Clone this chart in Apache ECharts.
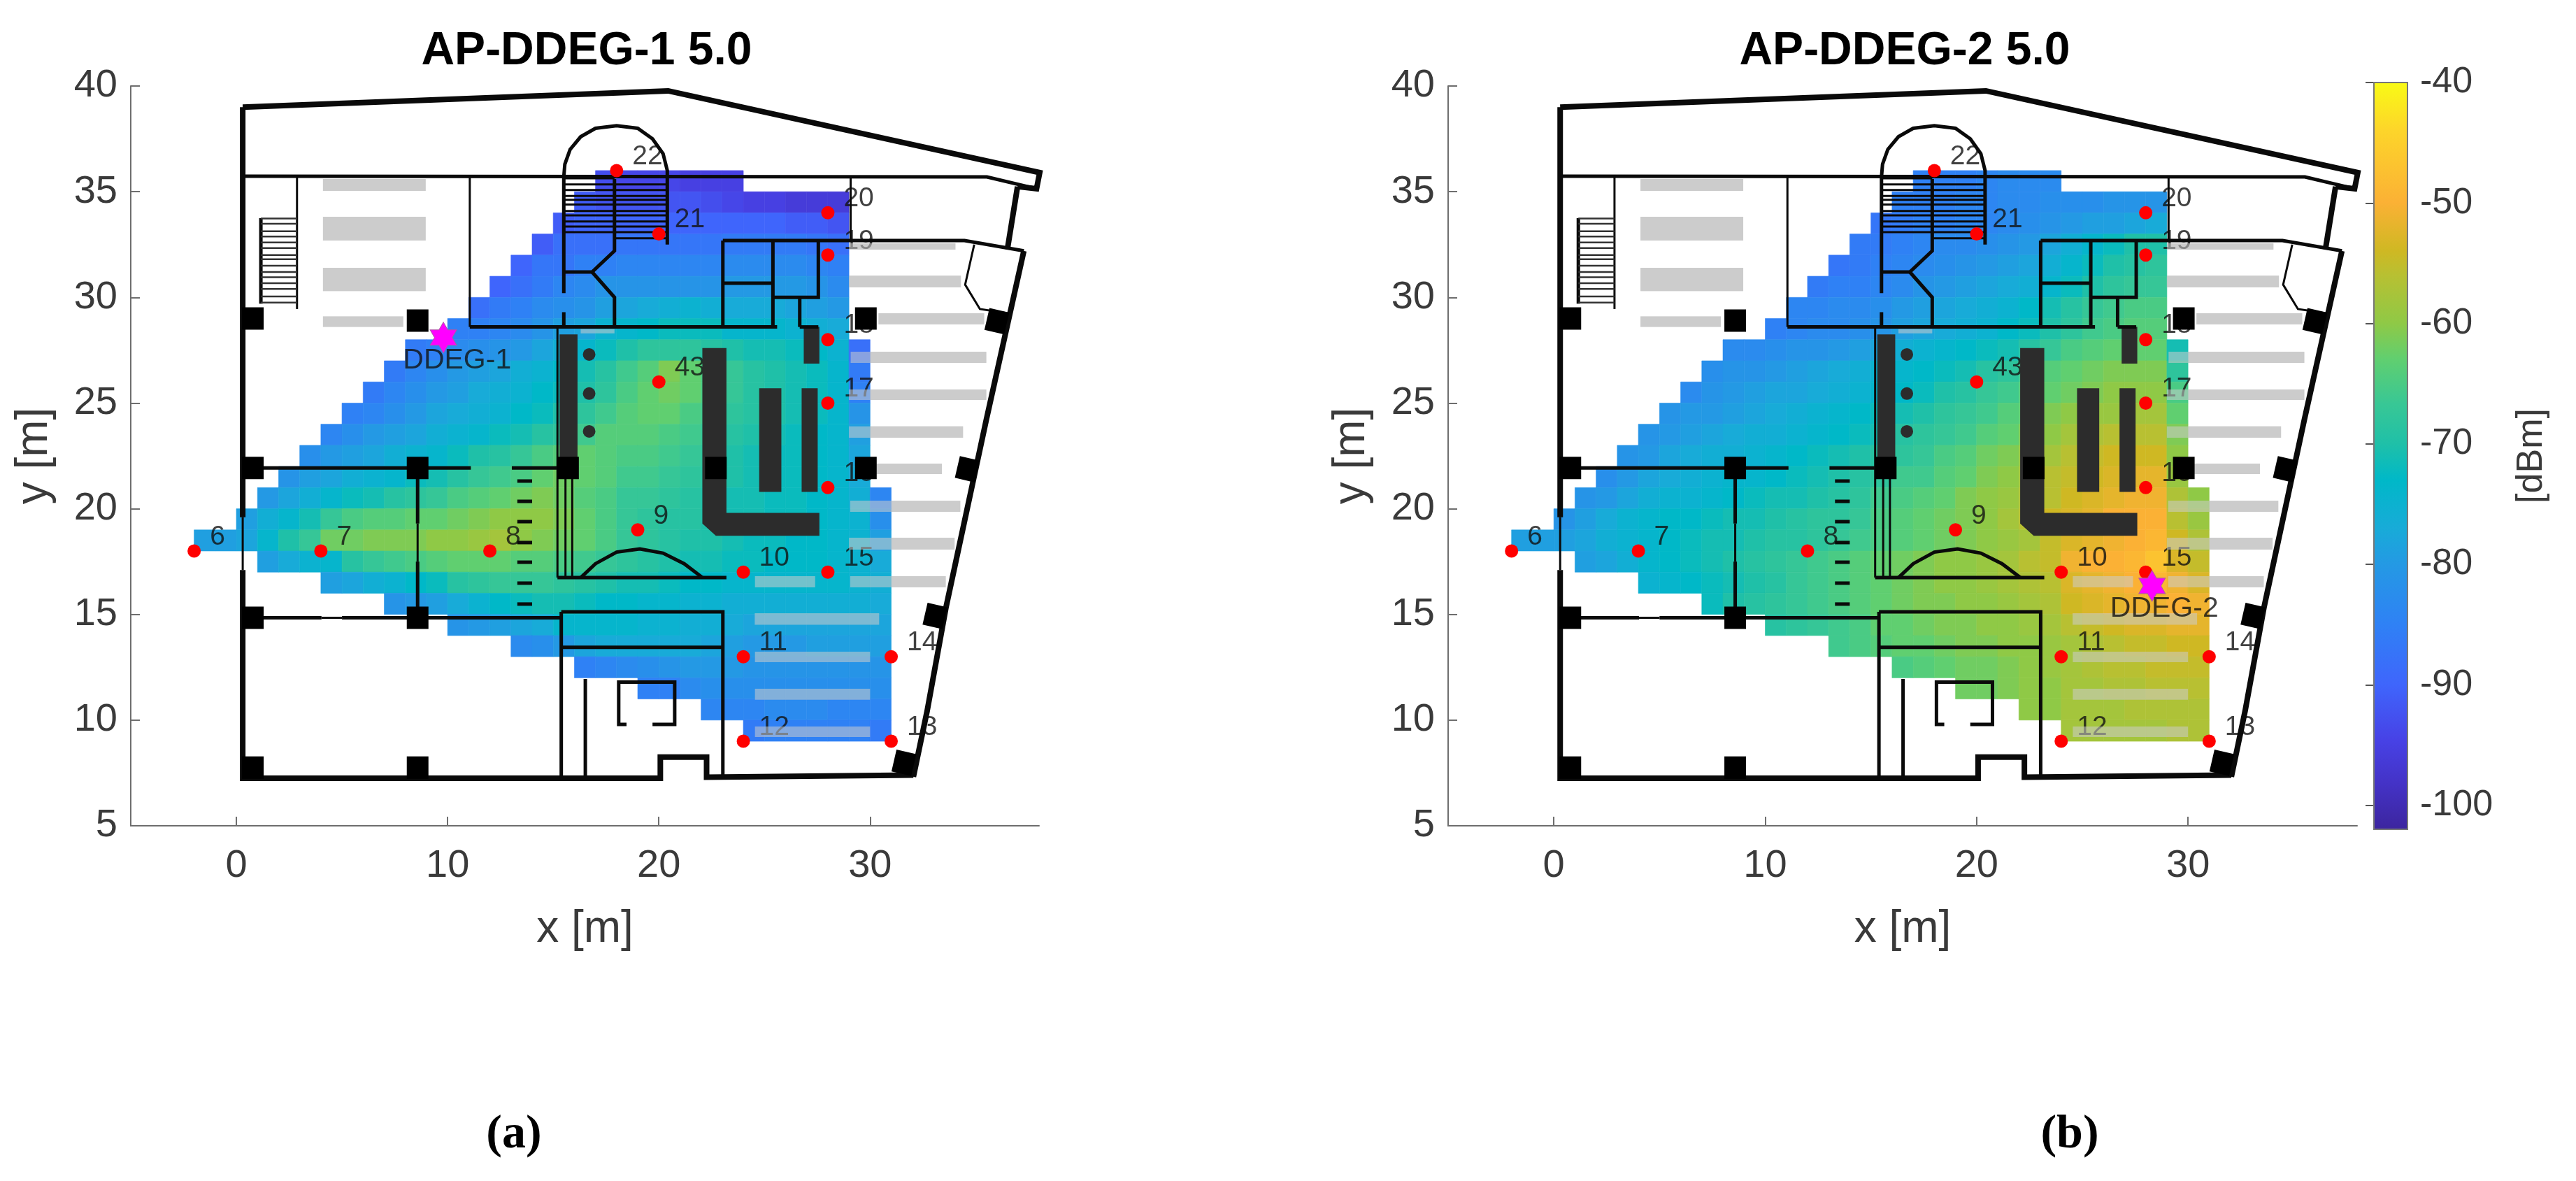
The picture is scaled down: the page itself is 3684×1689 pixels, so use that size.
<!DOCTYPE html>
<html><head><meta charset="utf-8">
<style>html,body{margin:0;padding:0;background:#fff}#c{width:3684px;height:1689px}</style>
<script src="https://cdn.jsdelivr.net/npm/echarts@6/dist/echarts.min.js"></script>
</head><body><div id="c"></div>
<script>
// ---------- tick labels and titles ----------
const xTicks=[0,10,20,30];
const colorTicks=[-40,-50,-60,-70,-80,-90,-100];
const colorRange=[-102,-40];
const titles=['AP-DDEG-1 5.0','AP-DDEG-2 5.0'];
// ---------- measurement points ----------
const pointNames=['6','7','8','9','10','11','12','13','14','15','16','17','18','19','20','21','22','43'];
const pointX=[-2,4,12,19,24,24,24,31,31,28,28,28,28,28,28,20,18,20];
const pointY=[18,18,18,19,17,13,9,9,13,17,21,25,28,32,34,33,36,26];
const apNames=['DDEG-1','DDEG-2'];
const apX=[9.8,28.3];
const apY=[28.1,16.35];
const apTextX=[7.87,26.3];
const apTextY=[27.0,15.27];
// ---------- signal map, one row per metre of y (top row y=35 .. bottom row y=9) ----------
const rowY=[35,34,33,32,31,30,29,28,27,26,25,24,23,22,21,20,19,18,17,16,15,14,13,12,11,10,9];
const rowStartX=[17,16,15,14,13,12,11,10,8,7,6,5,4,3,2,1,0,-2,1,4,7,10,13,16,19,22,24];
const ddeg1=[
[-93,-94,-94,-94,-95,-95,-95],
[-91,-92,-92,-92,-92,-92,-93,-94,-95,-95,-96,-96,-96],
[-91,-90,-90,-90,-90,-90,-90,-90,-90,-90,-90,-91,-91,-92],
[-91,-88,-88,-88,-87,-87,-87,-87,-87,-86,-86,-86,-86,-87,-88],
[-90,-87,-87,-85,-85,-84,-84,-84,-84,-84,-83,-83,-83,-83,-84,-85],
[-90,-88,-86,-84,-83,-81,-81,-81,-81,-81,-81,-80,-80,-80,-80,-81,-83],
[-88,-86,-85,-83,-82,-81,-79,-78,-77,-76,-75,-76,-77,-77,-77,-78,-79,-80],
[-85,-85,-84,-83,-81,-79,-78,-75,-74,-73,-72,-72,-72,-74,-74,-74,-75,-76,-77],
[-86,-85,-83,-82,-81,-80,-78,-76,-74,-72,-70,-68,-68,-68,-69,-70,-71,-71,-72,-73,-75,-88],
[-86,-84,-82,-80,-79,-78,-76,-75,-73,-71,-69,-66,-64,-61,-63,-65,-67,-69,-70,-71,-72,-74,-86],
[-86,-84,-82,-80,-79,-77,-76,-75,-73,-72,-70,-68,-65,-63,-62,-63,-65,-67,-69,-70,-71,-72,-74,-85],
[-85,-84,-82,-80,-78,-77,-76,-75,-73,-72,-70,-68,-66,-64,-63,-63,-65,-66,-68,-69,-70,-71,-72,-74,-81],
[-84,-82,-80,-79,-78,-76,-75,-74,-72,-71,-69,-68,-66,-64,-64,-64,-65,-66,-67,-69,-70,-71,-72,-73,-74,-79],
[-82,-80,-79,-78,-76,-75,-74,-72,-70,-69,-67,-65,-64,-63,-64,-65,-65,-66,-67,-68,-70,-71,-72,-72,-73,-74,-78],
[-81,-79,-78,-76,-75,-74,-72,-71,-69,-67,-66,-65,-63,-62,-63,-64,-66,-66,-67,-68,-69,-70,-71,-72,-72,-73,-74,-77],
[-80,-78,-76,-74,-72,-71,-69,-68,-67,-65,-64,-63,-62,-61,-62,-64,-65,-67,-67,-68,-69,-70,-71,-71,-72,-72,-73,-74,-76,-84],
[-79,-76,-74,-71,-67,-65,-64,-64,-63,-63,-62,-61,-60,-60,-60,-61,-63,-65,-67,-68,-69,-69,-70,-71,-71,-72,-72,-73,-74,-75,-82],
[-79,-79,-78,-74,-70,-67,-62,-62,-61,-61,-61,-60,-60,-59,-58,-60,-61,-62,-63,-65,-67,-68,-69,-70,-70,-71,-72,-72,-73,-73,-74,-75,-79],
[-79,-77,-75,-74,-69,-67,-66,-65,-64,-63,-63,-63,-64,-64,-65,-66,-67,-68,-69,-70,-71,-71,-72,-72,-73,-73,-73,-74,-75,-77],
[-79,-78,-76,-75,-73,-72,-69,-68,-67,-67,-67,-68,-69,-70,-71,-71,-72,-73,-73,-74,-74,-74,-74,-74,-74,-75,-76],
[-81,-80,-79,-77,-75,-73,-72,-71,-71,-72,-73,-73,-74,-74,-75,-75,-76,-76,-76,-76,-76,-76,-76,-77],
[-81,-80,-79,-78,-77,-74,-74,-74,-74,-75,-75,-76,-76,-77,-78,-78,-78,-78,-78,-78,-78],
[-83,-82,-80,-78,-77,-77,-77,-77,-77,-78,-79,-80,-80,-80,-79,-79,-79,-79],
[-85,-84,-83,-82,-81,-80,-80,-80,-81,-81,-81,-81,-81,-81,-81],
[-85,-85,-83,-82,-82,-82,-82,-82,-82,-82,-82,-82],
[-84,-84,-84,-83,-83,-83,-84,-84,-84],
[-86,-85,-85,-85,-85,-85,-86]
];
const ddeg2=[
[-85,-85,-85,-84,-83,-83,-83],
[-85,-85,-85,-84,-84,-83,-83,-82,-82,-82,-81,-81,-81],
[-87,-86,-85,-85,-84,-84,-83,-82,-81,-80,-79,-79,-78,-77],
[-86,-86,-85,-84,-83,-83,-82,-81,-80,-78,-76,-74,-72,-70,-70],
[-87,-86,-85,-84,-83,-82,-81,-80,-79,-78,-76,-74,-72,-70,-69,-68],
[-86,-85,-85,-84,-83,-81,-80,-79,-78,-77,-76,-74,-72,-70,-68,-67,-67],
[-84,-84,-83,-83,-82,-80,-79,-78,-77,-76,-75,-73,-71,-69,-67,-66,-65,-65],
[-85,-84,-83,-83,-82,-81,-79,-78,-77,-76,-75,-73,-72,-70,-68,-66,-65,-64,-64],
[-83,-83,-82,-81,-81,-80,-79,-78,-76,-75,-74,-73,-72,-71,-69,-67,-65,-64,-63,-63,-63,-71],
[-82,-81,-81,-80,-79,-78,-77,-76,-75,-74,-73,-72,-71,-69,-68,-66,-64,-63,-62,-61,-61,-61,-68],
[-83,-81,-80,-79,-78,-78,-77,-76,-75,-74,-73,-72,-70,-69,-67,-66,-64,-63,-62,-61,-60,-60,-60,-65],
[-81,-80,-80,-79,-78,-77,-76,-75,-74,-73,-72,-71,-70,-68,-67,-66,-64,-63,-61,-60,-59,-59,-58,-58,-63],
[-81,-80,-79,-78,-77,-76,-76,-75,-74,-73,-72,-71,-69,-68,-67,-66,-64,-63,-61,-60,-58,-57,-56,-56,-56,-61],
[-81,-80,-78,-77,-76,-76,-75,-74,-73,-72,-71,-70,-69,-68,-67,-65,-64,-62,-61,-59,-58,-56,-55,-54,-54,-54,-60],
[-82,-80,-78,-77,-76,-75,-74,-74,-73,-72,-71,-70,-69,-68,-66,-66,-64,-63,-61,-60,-58,-56,-55,-54,-53,-52,-52,-59],
[-81,-80,-78,-76,-75,-75,-74,-73,-72,-71,-71,-70,-69,-68,-66,-65,-64,-63,-61,-60,-59,-57,-56,-54,-53,-52,-51,-51,-57,-60],
[-81,-79,-77,-75,-74,-73,-73,-72,-71,-71,-70,-69,-68,-68,-67,-65,-64,-63,-62,-61,-60,-58,-56,-54,-53,-52,-50,-50,-50,-56,-59],
[-79,-79,-79,-78,-76,-75,-74,-73,-72,-71,-71,-70,-69,-69,-68,-67,-66,-65,-64,-63,-62,-61,-60,-59,-58,-55,-53,-52,-51,-50,-49,-54,-57],
[-79,-78,-76,-74,-73,-72,-71,-70,-69,-68,-67,-66,-65,-64,-63,-62,-61,-60,-60,-59,-58,-56,-55,-51,-50,-50,-49,-47,-53,-55],
[-75,-74,-73,-72,-71,-70,-69,-67,-66,-65,-64,-63,-62,-61,-60,-60,-59,-58,-57,-56,-53,-52,-51,-50,-49,-51,-53],
[-72,-70,-69,-68,-67,-66,-65,-64,-63,-62,-61,-61,-60,-60,-59,-58,-57,-54,-53,-52,-51,-51,-50,-51],
[-69,-68,-67,-66,-65,-63,-63,-62,-61,-61,-60,-60,-59,-58,-56,-55,-54,-53,-53,-52,-52],
[-66,-65,-64,-63,-63,-62,-61,-61,-60,-60,-59,-58,-57,-56,-55,-55,-54,-54],
[-65,-64,-63,-62,-62,-61,-60,-59,-58,-57,-56,-56,-55,-55,-55],
[-62,-62,-61,-60,-60,-58,-58,-57,-57,-56,-56,-56],
[-60,-60,-58,-58,-58,-57,-57,-57,-57],
[-58,-58,-58,-58,-58,-57,-57]
];
// ---------- colour scale: dBm -> colour ----------
const scaleValues=[-102,-98,-94.5,-90,-85,-80,-77,-73,-70,-66.7,-63,-60,-56,-54,-50,-44,-40];
const scaleColors=['#3c259e','#4433c8','#4742e6','#3f65fc','#2f81f5','#2499e4','#18abd8','#00b8c8','#1fc0a8','#38c795','#60cf70','#8fc946','#b8c032','#cfb823','#fbb135','#fdd52a','#f9fb15'];
// ---------- floor plan, in metres ----------
const thickWalls=[
[[0.3,39],[20.44,39.77],[38.03,35.9],[37.88,35.14],[36.98,35.24]],
[[0.3,39],[0.3,19.6]],[[0.3,17.1],[0.3,7.25],[20.07,7.25],[20.07,8.25],[22.26,8.25],[22.26,7.3],[32.05,7.4]],
[[32.05,7.32],[32.7,10.43],[33.6,15.36],[35.5,24.2],[37.28,32.2]],
[[36.98,35.24],[36.5,32.27]]
];
const mediumWalls=[
[[0.3,35.73],[35.53,35.7],[37.88,35.14]],
[[23.03,32.69],[34.47,32.69],[37.28,32.2]],
[[0.3,21.93],[11.1,21.93]],[[13.04,21.93],[15.7,21.93]],
[[0.3,14.84],[4.03,14.84]],[[5,14.84],[15.38,14.84]],
[[8.58,21.93],[8.58,19.3]],[[8.58,17.5],[8.58,14.84]],
[[11.05,28.6],[25.6,28.6]],[[26.67,28.6],[27.55,28.6]],
[[23.03,32.69],[23.03,28.6]],[[25.4,32.69],[25.4,28.6]],[[27.55,32.69],[27.55,30],[25.4,30]],[[23.03,30.67],[25.4,30.67]],[[26.67,30],[26.67,28.6]],
[[15.2,16.74],[23.2,16.74]],
[[15.38,15.12],[23.03,15.12],[23.03,7.3]],[[15.38,15.12],[15.38,7.25]],[[15.38,13.44],[23.03,13.44]],[[16.52,11.95],[16.52,7.25]],
[[18.47,9.8],[18.1,9.8],[18.1,11.8],[20.75,11.8],[20.75,9.8],[19.7,9.8]],
[[1.16,33.75],[1.16,29.7]],
[[16.3,16.74],[17,17.4],[18,17.95],[19.1,18.1],[20.2,17.9],[21.2,17.4],[22.07,16.74]],
[[15.5,35.7],[15.55,36.3],[15.8,37],[16.3,37.6],[17,38],[18,38.12],[19,38],[19.7,37.5],[20.2,36.8],[20.4,36],[20.4,32.5]],
[[15.5,35.7],[15.5,30.2]],[[15.5,29.3],[15.5,28.6]],
[[17.9,35.6],[17.9,32.2],[16.84,31.2],[15.5,31.2]],[[16.84,31.2],[17.9,30],[17.9,28.6]],
[[13.3,21.31],[14,21.31]],[[13.3,20.35],[14,20.35]],[[13.3,19.39],[14,19.39]],[[13.3,18.4],[14,18.4]],[[13.3,17.47],[14,17.47]],[[13.3,16.48],[14,16.48]],[[13.3,15.49],[14,15.49]]
];
const thinWalls=[
[[0.3,19.6],[0.3,17.1]],[[4.03,14.84],[5,14.84]],[[8.58,19.3],[8.58,17.5]],
[[2.87,35.73],[2.87,29.45]],[[11.05,35.73],[11.05,28.6]],[[15.2,28.6],[15.2,16.74]],[[15.58,21.9],[15.58,16.74]],[[15.9,21.9],[15.9,16.74]],
[[29.08,35.7],[29.08,32.7]],
[[34.93,32.5],[34.5,30.6],[35.2,29.45],[36.5,29.25]],
[[15.5,35.34],[20.4,35.34]],[[15.5,35.08],[20.4,35.08]],[[15.5,34.8],[20.4,34.8]],[[15.5,34.62],[20.4,34.62]],[[15.5,34.39],[20.4,34.39]],[[15.5,34.09],[20.4,34.09]],[[15.5,33.88],[20.4,33.88]],[[15.5,33.59],[20.4,33.59]],[[15.5,33.35],[20.4,33.35]],[[15.5,33.09],[20.4,33.09]],[[17.9,32.8],[20.4,32.8]],[[15.5,35.63],[17.9,35.63]]
];
const leftStairY=[33.73,33.48,33.13,32.88,32.6,32.33,32,31.8,31.5,31.2,30.95,30.67,30.4,30.04,29.75];
const darkShapes=[
[[15.3,28.25],[16.15,28.25],[16.15,21.9],[15.3,21.9]],
[[22.06,27.6],[23.2,27.6],[23.2,19.8],[27.6,19.8],[27.6,18.72],[22.7,18.72],[22.06,19.3]],
[[24.75,25.7],[25.8,25.7],[25.8,20.8],[24.75,20.8]],
[[26.76,25.7],[27.52,25.7],[27.52,20.8],[26.76,20.8]],
[[26.86,28.6],[27.6,28.6],[27.6,26.87],[26.86,26.87]]
];
const roundColumnX=[16.7,16.7,16.7];
const roundColumnY=[27.3,25.45,23.66];
const pillarX=[0.78,8.58,0.78,8.58,15.7,22.7,29.8,29.8,0.78,8.58,0.78,8.58];
const pillarY=[29,28.9,21.93,21.93,21.93,21.93,21.93,29,14.84,14.84,7.75,7.75];
const tiltedPillarX=[36,34.6,33.07,31.6];
const tiltedPillarY=[28.87,21.87,14.93,7.98];
const grayBars=[
[4.1,8.96,35.6,35.04],[4.1,8.96,33.81,32.69],[4.1,8.96,31.4,30.3],[4.1,7.9,29.1,28.6],[16.3,17.9,28.5,28.3],
[29,34.04,32.56,32.26],[29,34.3,31.03,30.47],[30.4,35.4,29.25,28.72],[29.08,35.5,27.43,26.9],[29,35.5,25.64,25.15],
[29,34.4,23.9,23.36],[30.3,33.4,22.14,21.64],[29.06,34.27,20.38,19.85],[29,34,18.63,18.07],[29.06,33.58,16.81,16.28],
[24.55,27.4,16.81,16.28],[24.54,30.43,15.06,14.51],[24.55,30,13.24,12.74],[24.55,30,11.48,10.96],[24.55,30,9.7,9.2]
];
// ---------- helpers ----------
function hex(c){return [1,3,5].map(i=>parseInt(c.substr(i,2),16));}
function colorOf(v){
  for(let i=1;i<scaleValues.length;i++){
    if(v<=scaleValues[i]){
      const t=(v-scaleValues[i-1])/(scaleValues[i]-scaleValues[i-1]);
      const a=hex(scaleColors[i-1]),b=hex(scaleColors[i]);
      return 'rgb('+a.map((x,k)=>Math.round(x+(b[k]-x)*t)).join(',')+')';
    }
  }
  return scaleColors[scaleColors.length-1];
}
function cellsOf(table){
  const out=[];
  table.forEach((row,r)=>row.forEach((v,i)=>out.push([rowStartX[r]+i,rowY[r],v])));
  return out;
}
const AX='#6e6e6e',TXT='#3a3a3a',FONT='"Liberation Sans",Arial,sans-serif',CLEAR='rgba(0,0,0,0)';
const idx=a=>a.map((_,i)=>[i]);
function polyLayer(g,lines,width,z,color){
  return {type:'custom',xAxisIndex:g,yAxisIndex:g,z,silent:true,clip:false,data:idx(lines),
    renderItem:(p,api)=>({type:'polyline',shape:{points:lines[api.value(0)].map(q=>api.coord(q))},
      style:{stroke:color||'#0a0a0a',lineWidth:width,fill:null,lineJoin:'miter'}})};
}
function rectRender(bars,fill,op){
  return (p,api)=>{const b=bars[api.value(0)];const a=api.coord([b[0],b[2]]),c=api.coord([b[1],b[3]]);
    return {type:'rect',shape:{x:a[0],y:a[1],width:c[0]-a[0],height:c[1]-a[1]},style:{fill,opacity:op}};};
}
function panelSeries(g,table){
  const s=[];
  s.push({type:'custom',xAxisIndex:g,yAxisIndex:g,z:1,silent:true,clip:false,data:idx(grayBars),renderItem:rectRender(grayBars,'#cccccc',1)});
  s.push({type:'custom',name:'signal',xAxisIndex:g,yAxisIndex:g,z:2,silent:true,clip:false,data:cellsOf(table),encode:{x:0,y:1},
    renderItem:(p,api)=>{
      const X=api.value(0),Y=api.value(1),c=colorOf(api.value(2));
      const a=api.coord([X,Y+1]),b=api.coord([X+1,Y]);
      return {type:'rect',shape:{x:a[0],y:a[1],width:b[0]-a[0],height:b[1]-a[1]},style:{fill:c,stroke:c,lineWidth:0.6}};
    }});
  s.push({type:'scatter',xAxisIndex:g,yAxisIndex:g,z:3,silent:true,symbolSize:1,itemStyle:{color:CLEAR},
    data:pointX.map((x,i)=>({value:[x,pointY[i]],name:pointNames[i]})),
    labelLayout:{dy:-20},
    label:{show:true,position:'right',distance:22,formatter:'{b}',color:'#111',fontFamily:FONT,fontSize:39}});
  s.push({type:'custom',xAxisIndex:g,yAxisIndex:g,z:4,silent:true,clip:false,data:idx(grayBars),renderItem:rectRender(grayBars,'#cccccc',0.55)});
  s.push({type:'custom',xAxisIndex:g,yAxisIndex:g,z:5,silent:true,clip:false,data:idx(darkShapes),
    renderItem:(p,api)=>({type:'polygon',shape:{points:darkShapes[api.value(0)].map(q=>api.coord(q))},style:{fill:'#2c2c2c'}})});
  s.push({type:'scatter',xAxisIndex:g,yAxisIndex:g,z:5,silent:true,symbol:'circle',symbolSize:18,itemStyle:{color:'#2c2c2c',opacity:1},
    data:roundColumnX.map((x,i)=>[x,roundColumnY[i]])});
  s.push(polyLayer(g,thickWalls,8,5));
  s.push(polyLayer(g,mediumWalls,5,5));
  s.push(polyLayer(g,thinWalls,3,5));
  s.push(polyLayer(g,leftStairY.map(y=>[[1.16,y],[2.87,y]]),2.5,5,'#333'));
  s.push({type:'scatter',xAxisIndex:g,yAxisIndex:g,z:5,silent:true,symbol:'rect',symbolSize:[31,32],itemStyle:{color:'#000',opacity:1},
    data:pillarX.map((x,i)=>[x,pillarY[i]])});
  s.push({type:'scatter',xAxisIndex:g,yAxisIndex:g,z:5,silent:true,symbol:'rect',symbolSize:[29,32],symbolRotate:-13,itemStyle:{color:'#000',opacity:1},
    data:tiltedPillarX.map((x,i)=>[x,tiltedPillarY[i]])});
  s.push({type:'scatter',xAxisIndex:g,yAxisIndex:g,z:6,silent:true,symbol:'circle',symbolSize:19,itemStyle:{color:'#ff0000',opacity:1},
    data:pointX.map((x,i)=>[x,pointY[i]])});
  s.push({type:'scatter',xAxisIndex:g,yAxisIndex:g,z:7,silent:true,symbol:'path://M50 0L64.4 25L93.3 25L78.9 50L93.3 75L64.4 75L50 100L35.6 75L6.7 75L21.1 50L6.7 25L35.6 25Z',
    symbolSize:[38,44],symbolKeepAspect:false,itemStyle:{color:'#ff00ff',borderColor:'#b05aa5',borderWidth:1,opacity:1},data:[[apX[g],apY[g]]]});
  s.push({type:'scatter',xAxisIndex:g,yAxisIndex:g,z:7,silent:true,symbolSize:1,itemStyle:{color:CLEAR},
    data:[{value:[apTextX[g],apTextY[g]],name:apNames[g]}],
    label:{show:true,position:'right',distance:0,formatter:'{b}',color:'#111',fontFamily:FONT,fontSize:41}});
  return s;
}
function xAxisOf(g){
  return {gridIndex:g,type:'value',min:-5,max:38,splitLine:{show:false},
    axisLine:{show:true,onZero:false,lineStyle:{color:AX,width:2}},
    axisTick:{show:true,inside:true,length:13,lineStyle:{color:AX,width:2},customValues:xTicks},
    axisLabel:{show:true,color:TXT,fontFamily:FONT,fontSize:56,margin:30,customValues:xTicks},
    name:'x [m]',nameLocation:'middle',nameGap:116,nameTextStyle:{color:TXT,fontFamily:FONT,fontSize:64}};
}
function yAxisOf(g){
  return {gridIndex:g,type:'value',min:5,max:40,interval:5,splitLine:{show:false},
    axisLine:{show:true,onZero:false,lineStyle:{color:AX,width:2}},
    axisTick:{show:true,inside:true,length:13,lineStyle:{color:AX,width:2}},
    axisLabel:{show:true,color:TXT,fontFamily:FONT,fontSize:56,margin:19},
    name:'y [m]',nameLocation:'middle',nameGap:106,nameTextStyle:{color:TXT,fontFamily:FONT,fontSize:64}};
}
const captionRich={n:{fontFamily:'"Liberation Serif",serif',fontSize:68,color:'#000'},b:{fontFamily:'"Liberation Serif",serif',fontSize:68,fontWeight:'bold',color:'#000'}};
const option={
  animation:false,backgroundColor:'#fff',
  title:[
    {text:titles[0],left:834,top:36,textAlign:'center',textStyle:{fontFamily:FONT,fontSize:66,fontWeight:'bold',color:'#000'}},
    {text:titles[1],left:2719,top:36,textAlign:'center',textStyle:{fontFamily:FONT,fontSize:66,fontWeight:'bold',color:'#000'}},
    {text:'{n|(}{b|a}{n|)}',left:730,top:1584,textAlign:'center',textStyle:{rich:captionRich}},
    {text:'{n|(}{b|b}{n|)}',left:2955,top:1584,textAlign:'center',textStyle:{rich:captionRich}}
  ],
  grid:[
    {left:187,top:123,width:1299,height:1058},
    {left:2071,top:123,width:1300,height:1058},
    {left:3395,top:118,width:48,height:1068}
  ],
  xAxis:[xAxisOf(0),xAxisOf(1),{gridIndex:2,type:'value',min:0,max:1,show:false}],
  yAxis:[yAxisOf(0),yAxisOf(1),{gridIndex:2,type:'value',position:'right',min:colorRange[0],max:colorRange[1],splitLine:{show:false},
    axisLine:{show:false},
    axisTick:{show:true,inside:true,length:12,lineStyle:{color:'#555',width:2},customValues:colorTicks},
    axisLabel:{show:true,color:TXT,fontFamily:FONT,fontSize:52,margin:18,customValues:colorTicks},
    name:'[dBm]',nameLocation:'middle',nameRotate:90,nameGap:152,nameTextStyle:{color:TXT,fontFamily:FONT,fontSize:52}}],
  series:[...panelSeries(0,ddeg1),...panelSeries(1,ddeg2),
    {type:'custom',name:'colorbar',xAxisIndex:2,yAxisIndex:2,silent:true,z:1,clip:false,data:[[0]],
      renderItem:(p,api)=>{
        const a=api.coord([0,colorRange[1]]),b=api.coord([1,colorRange[0]]);
        const span=colorRange[1]-colorRange[0];
        return {type:'rect',shape:{x:a[0],y:a[1],width:b[0]-a[0],height:b[1]-a[1]},
          style:{fill:new echarts.graphic.LinearGradient(0,0,0,1,
            scaleValues.map((v,i)=>({offset:(colorRange[1]-v)/span,color:scaleColors[i]})).reverse()),
            stroke:'#777',lineWidth:2}};
      }}
  ]
};
const chart=echarts.init(document.getElementById('c'),null,{renderer:'canvas',width:3684,height:1689});
chart.setOption(option);
</script></body></html>
